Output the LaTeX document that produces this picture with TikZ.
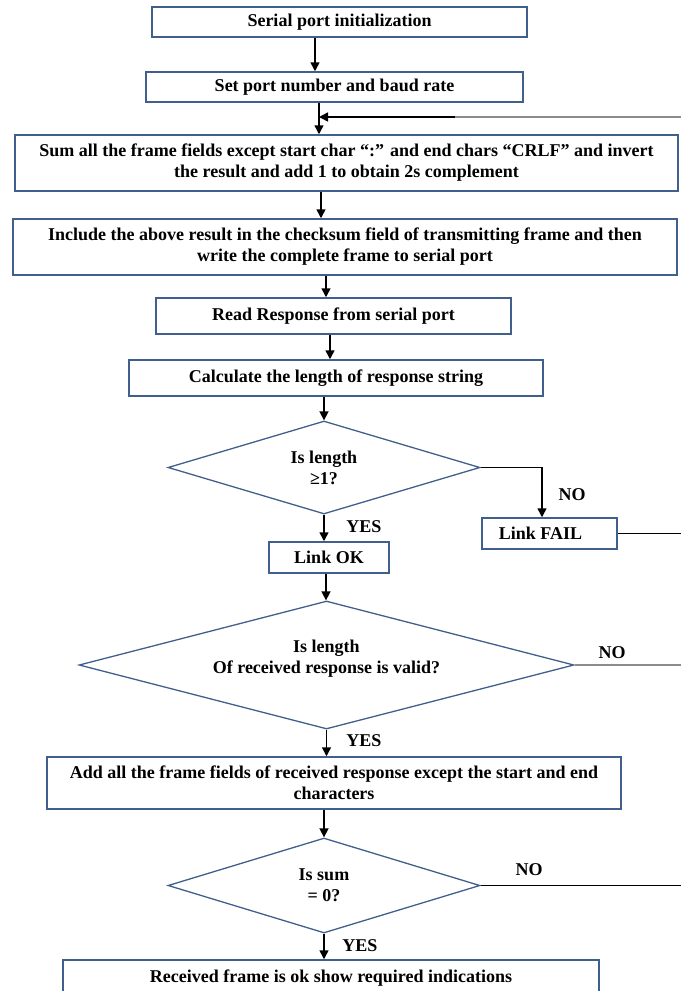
\documentclass[tikz,border=0pt]{standalone}
\usepackage{fontspec}
\setmainfont{Liberation Serif}
\usetikzlibrary{shapes.geometric,arrows.meta}
\definecolor{bordercol}{RGB}{65,95,140}
\definecolor{greyline}{RGB}{140,140,140}
\begin{document}
\begin{tikzpicture}[x=1pt,y=1pt,
  txt/.style={font=\bfseries\fontsize{18}{21}\selectfont},
  procbox/.style={txt, draw=bordercol, line width=1.5pt, rectangle, align=center, inner sep=0pt},
  decbox/.style={txt, draw=bordercol, line width=1.3pt, diamond, align=center, inner sep=0pt, aspect=3},
  arr/.style={draw=black, line width=1.5pt, -{Triangle[length=9pt,width=9pt]}},
  link/.style={draw=black, line width=1.5pt},
  greylink/.style={draw=greyline, line width=1.5pt},
  lbl/.style={txt, inner sep=0pt}]
\useasboundingbox (0,0) rectangle (681,-991);

% boxes
\node[procbox, minimum width=375pt, minimum height=30pt] (n1) at (339.5,-22) {Serial port initialization};
\node[procbox, minimum width=377pt, minimum height=30pt] (n2) at (334.5,-87) {Set port number and baud rate};
\node[procbox, minimum width=663pt, minimum height=56pt] (n3) at (346.5,-163) {Sum all the frame fields except start char “:” and end chars “CRLF” and invert\\the result and add 1 to obtain 2s complement};
\node[procbox, minimum width=664pt, minimum height=56pt] (n4) at (345,-247) {Include the above result in the checksum field of transmitting frame and then\\write the complete frame to serial port};
\node[procbox, minimum width=355pt, minimum height=36pt] (n5) at (333.5,-316) {Read Response from serial port};
\node[procbox, minimum width=414pt, minimum height=36pt] (n6) at (336,-378) {Calculate the length of response string};
\node[decbox, minimum width=312pt, minimum height=93pt] (d1) at (324,-467.5) {Is length\\≥1?};
\node[procbox, minimum width=120pt, minimum height=31pt] (ok) at (329,-557.5) {Link OK};
\node[procbox, minimum width=135pt, minimum height=31pt] (fail) at (549.5,-533.5) {Link FAIL\hspace*{18pt}};
\node[decbox, minimum width=495pt, minimum height=128pt] (d2) at (326.5,-665) {Is length\\Of received response is valid?\\[-4pt]};
\node[procbox, minimum width=574pt, minimum height=52pt] (n7) at (334,-783) {Add all the frame fields of received response except the start and end\\characters};
\node[decbox, minimum width=312pt, minimum height=95pt] (d3) at (324,-885.5) {Is sum\\= 0?};
\node[procbox, minimum width=536pt, minimum height=36pt] (n8) at (331,-978) {\raisebox{4pt}{Received frame is ok show required indications}};

% helper coordinates
\coordinate (x315) at (315,0);
\coordinate (x319) at (319,0);
\coordinate (x321) at (321,0);
\coordinate (x326) at (326,0);
\coordinate (x330) at (330,0);
\coordinate (x542) at (542,0);
\coordinate (fbin) at (319,-117);
\coordinate (fbmid) at (455,-117);
\coordinate (fbedge) at (681,-117);
\coordinate (failedge) at (681,-533.5);
\coordinate (d2edge) at (681,-665);
\coordinate (d3edge) at (681,-885.5);

% connectors
\draw[arr] (n1.south -| x315) -- (n2.north -| x315);
\draw[arr] (n2.south -| x319) -- (n3.north -| x319);
\draw[greylink] (fbedge) -- (fbmid);
\draw[arr] (fbmid) -- (fbin);
\draw[arr] (n3.south -| x321) -- (n4.north -| x321);
\draw[arr] (n4.south -| x326) -- (n5.north -| x326);
\draw[arr] (n5.south -| x330) -- (n6.north -| x330);
\draw[arr] (n6.south -| d1.north) -- (d1.north);
\draw[arr] (d1.east) -| (fail.north -| x542);
\draw[arr] (d1.south) -- (ok.north -| d1.south);
\draw[link] (fail.east) -- (failedge);
\draw[arr] (ok.south -| x326) -- (d2.north -| x326);
\draw[greylink] (d2.east) -- (d2edge);
\draw[arr] (d2.south) -- (n7.north -| d2.south);
\draw[arr] (n7.south -| d3.north) -- (d3.north);
\draw[link] (d3.east) -- (d3edge);
\draw[arr] (d3.south) -- (n8.north -| d3.south);

% labels
\node[lbl] (no1) at (572,-495) {NO};
\node[lbl] (yes1) at (364,-527) {YES};
\node[lbl] (no2) at (612,-653) {NO};
\node[lbl] (yes2) at (364,-741) {YES};
\node[lbl] (no3) at (529,-870) {NO};
\node[lbl] (yes3) at (360,-946) {YES};
\end{tikzpicture}
\end{document}
